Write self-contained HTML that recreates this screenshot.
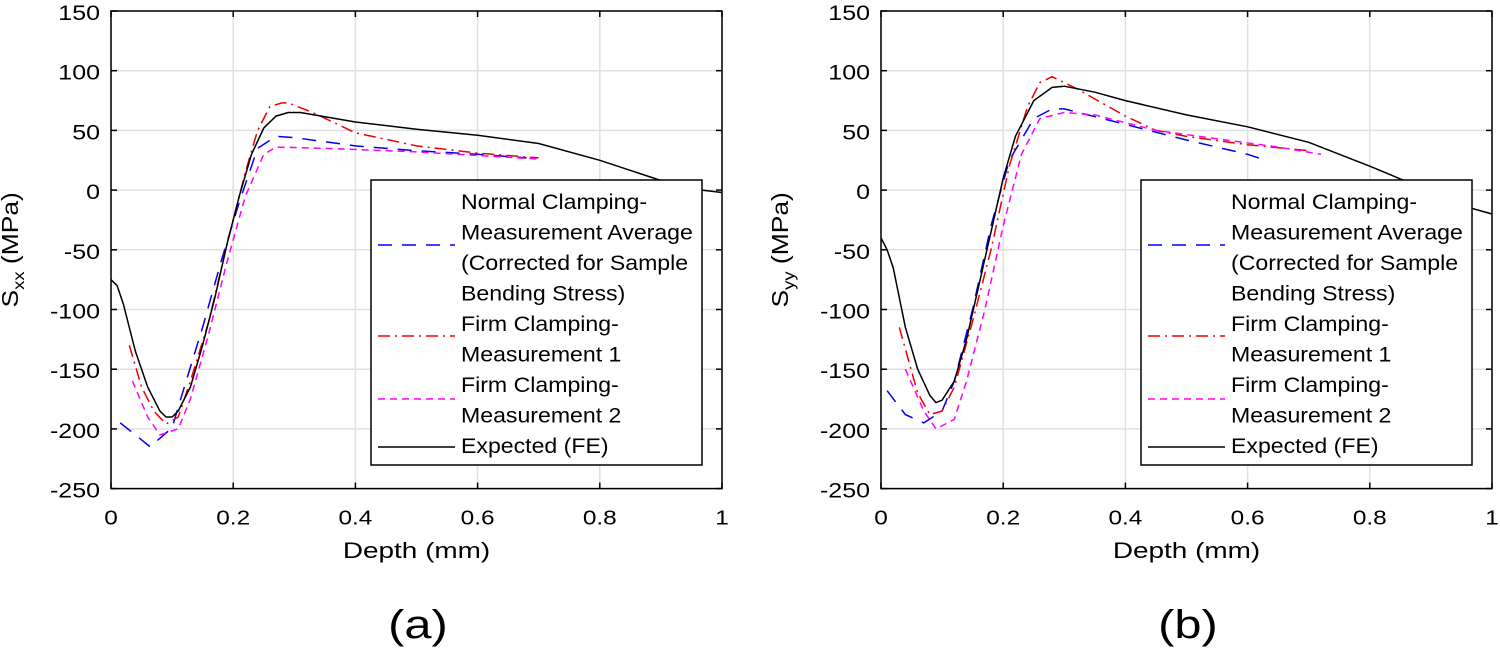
<!DOCTYPE html>
<html><head><meta charset="utf-8"><style>
html,body{margin:0;padding:0;background:#fff;}
svg{display:block;font-family:"Liberation Sans",Arial,sans-serif;}
</style></head><body>
<svg id="fig" width="1500" height="657" viewBox="0 0 1500 657" xmlns="http://www.w3.org/2000/svg"></svg>
<script>
const xTicks=[0,0.2,0.4,0.6,0.8,1];
const xTickLabels=["0","0.2","0.4","0.6","0.8","1"];
const yTicks=[150,100,50,0,-50,-100,-150,-200,-250];
// Panel (a)
const aFE_x=[0,0.01,0.02,0.04,0.06,0.08,0.09,0.1,0.11,0.13,0.15,0.17,0.19,0.21,0.23,0.25,0.27,0.29,0.31,0.4,0.5,0.6,0.7,0.8,0.9,0.95,1];
const aFE_y=[-75,-80,-95,-135,-165,-185,-190,-190,-185,-165,-130,-90,-45,-5,30,52,62,65,65,57,51,46,39,25,8,1,-2];
const aBlue_x=[0.015,0.04,0.064,0.1,0.12,0.15,0.18,0.21,0.24,0.27,0.3,0.4,0.5,0.6,0.68];
const aBlue_y=[-195,-205,-215,-199,-165,-115,-60,-10,35,45,44,37,33,30,27];
const aRed_x=[0.03,0.05,0.07,0.09,0.11,0.13,0.16,0.19,0.22,0.24,0.26,0.28,0.29,0.33,0.4,0.5,0.6,0.7];
const aRed_y=[-130,-165,-185,-196,-190,-160,-110,-45,15,50,70,73,73,65,48,37,31,27];
const aMag_x=[0.035,0.06,0.08,0.11,0.13,0.16,0.19,0.22,0.25,0.27,0.35,0.5,0.6,0.7];
const aMag_y=[-160,-190,-205,-200,-175,-120,-60,-5,30,36,35,32,29,26];
// Panel (b)
const bFE_x=[0,0.01,0.02,0.04,0.06,0.08,0.09,0.1,0.12,0.14,0.16,0.18,0.2,0.22,0.25,0.28,0.3,0.35,0.4,0.5,0.6,0.7,0.8,0.87,0.93,1];
const bFE_y=[-40,-50,-65,-115,-150,-172,-178,-176,-160,-125,-80,-35,10,45,75,86,87,82,75,63,53,40,20,5,-10,-20];
const bBlue_x=[0.01,0.04,0.07,0.1,0.12,0.15,0.18,0.21,0.25,0.28,0.3,0.4,0.5,0.6,0.63];
const bBlue_y=[-168,-188,-195,-185,-160,-100,-30,25,60,68,68,55,42,30,25];
const bRed_x=[0.03,0.06,0.08,0.1,0.12,0.15,0.18,0.21,0.24,0.26,0.28,0.32,0.4,0.45,0.5,0.6,0.7];
const bRed_y=[-115,-170,-188,-185,-165,-110,-50,20,70,90,95,85,62,50,45,38,33];
const bMag_x=[0.04,0.07,0.09,0.12,0.14,0.17,0.2,0.23,0.26,0.3,0.35,0.45,0.55,0.65,0.72];
const bMag_y=[-150,-185,-200,-192,-160,-100,-30,30,60,65,63,50,43,36,30];
const legendLabels=["Normal Clamping-","Measurement Average","(Corrected for Sample","Bending Stress)","Firm Clamping-","Measurement 1","Firm Clamping-","Measurement 2","Expected (FE)"];

const NS="http://www.w3.org/2000/svg";
const svg=document.getElementById('fig');
function mk(tag,attrs,parent){const e=document.createElementNS(NS,tag);for(const k in attrs)e.setAttribute(k,attrs[k]);(parent||svg).appendChild(e);return e;}
function txt(parent,x,y,size,sx,anchor,str,rot){
  const t=mk('text',{x:0,y:0,'font-size':size,'text-anchor':anchor,
    transform:`translate(${x},${y})${rot?' rotate(-90)':''} scale(${sx},1)`},parent);
  t.textContent=str;return t;
}

function panel(id,x0,label,sub,series){
  const W=611,T=11,B=488.6;
  const X=v=>x0+v*W, Y=v=>T+(150-v)/400*(B-T);
  const g=mk('g',{});
  
  
  xTicks.forEach(t=>{
    const l=mk('line',{x1:X(t),x2:X(t),y1:T,y2:B,stroke:'#e0e0e0','stroke-width':1.5},g);
    
  });
  yTicks.forEach(t=>{
    const l=mk('line',{x1:x0,x2:x0+W,y1:Y(t),y2:Y(t),stroke:'#e0e0e0','stroke-width':1.5},g);
    
  });
  series.forEach(s=>{
    const pts=s.x.map((v,i)=>X(v).toFixed(1)+','+Y(s.y[i]).toFixed(1)).join(' ');
    const p=mk('polyline',{points:pts,fill:'none',stroke:s.c,'stroke-width':1.5,'stroke-dasharray':s.d||'none'},g);
    
  });
  const box=mk('rect',{x:x0,y:T,width:W,height:B-T,fill:'none',stroke:'#000','stroke-width':1.5},g);
  
  xTicks.forEach((t,i)=>{
    mk('line',{x1:X(t),x2:X(t),y1:B,y2:B-6,stroke:'#000','stroke-width':1.5},g);
    mk('line',{x1:X(t),x2:X(t),y1:T,y2:T+6,stroke:'#000','stroke-width':1.5},g);
    const tx=txt(g,X(t),B+36,20,1.22,'middle',xTickLabels[i]);
    
  });
  yTicks.forEach(t=>{
    mk('line',{x1:x0,x2:x0+6,y1:Y(t),y2:Y(t),stroke:'#000','stroke-width':1.5},g);
    mk('line',{x1:x0+W,x2:x0+W-6,y1:Y(t),y2:Y(t),stroke:'#000','stroke-width':1.5},g);
    const tx=txt(g,x0-11,Y(t)+9,21,1.19,'end',String(t));
    
  });
  const xl=txt(g,x0+W/2,558,22,1.27,'middle','Depth (mm)');
  
  const yl=mk('text',{x:0,y:0,'font-size':23,'text-anchor':'middle',transform:`translate(${x0-93},${(T+B)/2}) rotate(-90) scale(1.15,1)`},g);
  yl.innerHTML=`S<tspan font-size="16" dy="6">${sub}</tspan><tspan dy="-6"> (MPa)</tspan>`;
  
  const pl=txt(g,x0+307,638,40,1.22,'middle',label);
  
  // legend
  const lx=x0+260, ly=180;
  const lg=mk('g',{},g);
  
  mk('rect',{x:lx,y:ly,width:331,height:285,fill:'#fff',stroke:'#000','stroke-width':1.5},lg);
  legendLabels.forEach((t,i)=>{
    const tx=txt(lg,lx+90,ly+29+i*30.5,21,1.1,'start',t);
    
  });
  const ls=[[series[0],65],[series[1],156],[series[2],219],[series[3],267]];
  ls.forEach(([s,yy])=>{
    const l=mk('line',{x1:lx+7,x2:lx+84,y1:ly+yy,y2:ly+yy,stroke:s.c,'stroke-width':1.5,'stroke-dasharray':s.d||'none'},lg);
    
  });
}
panel('a',111,'(a)','xx',[
  {n:'normal-clamping-average',x:aBlue_x,y:aBlue_y,c:'#0000ee',d:'14 10'},
  {n:'firm-clamping-1',x:aRed_x,y:aRed_y,c:'#ee0000',d:'12 5 2 5'},
  {n:'firm-clamping-2',x:aMag_x,y:aMag_y,c:'#ff00ff',d:'7 5'},
  {n:'expected-fe',x:aFE_x,y:aFE_y,c:'#000',d:''}]);
panel('b',881,'(b)','yy',[
  {n:'normal-clamping-average',x:bBlue_x,y:bBlue_y,c:'#0000ee',d:'14 10'},
  {n:'firm-clamping-1',x:bRed_x,y:bRed_y,c:'#ee0000',d:'12 5 2 5'},
  {n:'firm-clamping-2',x:bMag_x,y:bMag_y,c:'#ff00ff',d:'7 5'},
  {n:'expected-fe',x:bFE_x,y:bFE_y,c:'#000',d:''}]);
</script>
</body></html>
